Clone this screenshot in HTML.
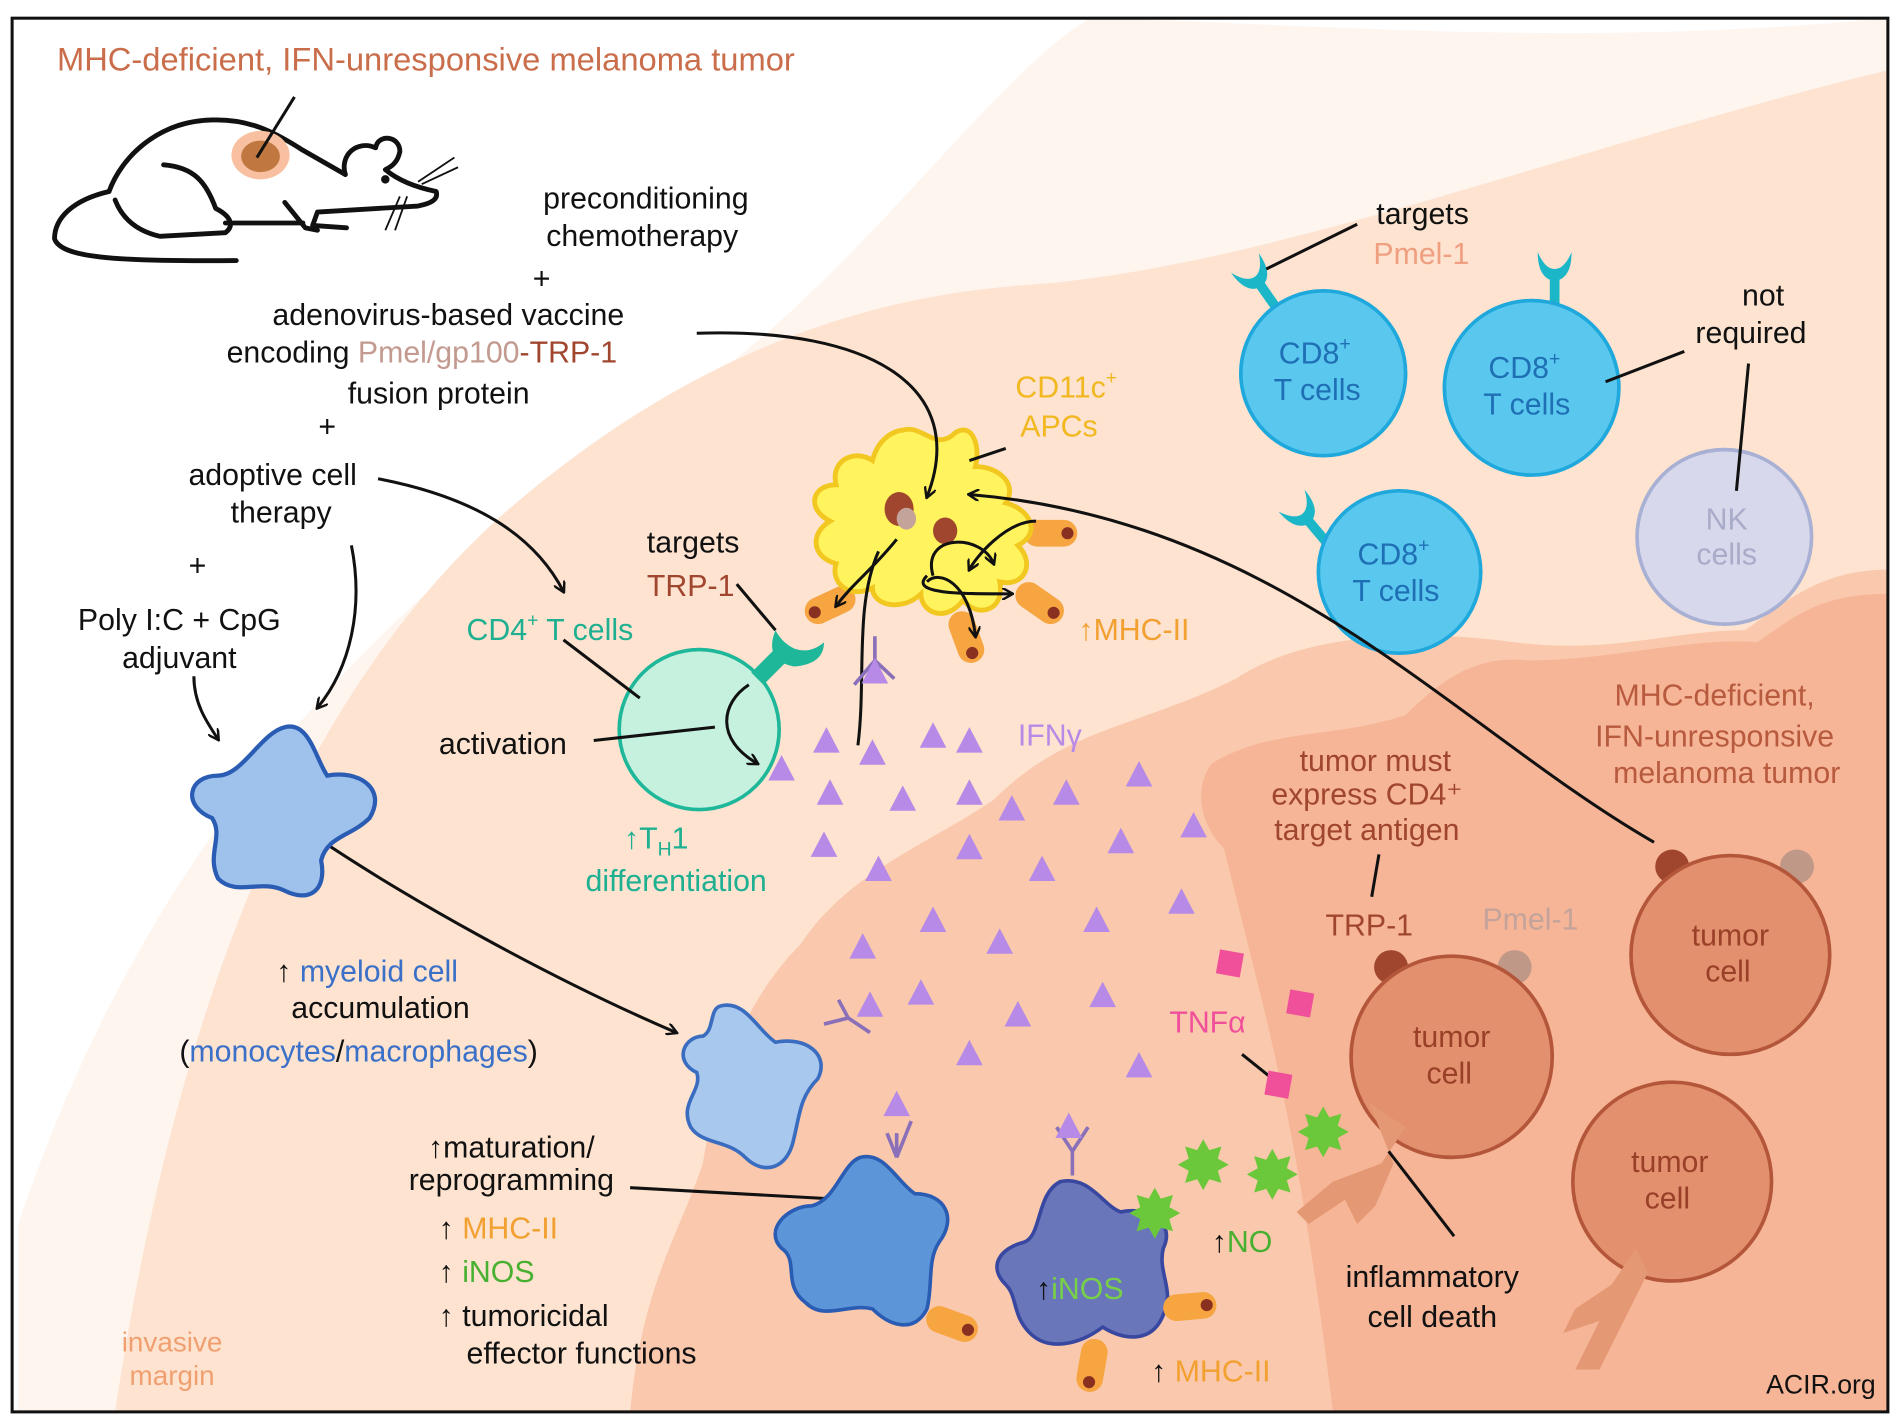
<!DOCTYPE html>
<html><head><meta charset="utf-8"><style>
html,body{margin:0;padding:0;background:#fff;}
svg{display:block;}
text{font-family:"Liberation Sans",sans-serif;}
</style></head><body>
<svg width="1900" height="1424" viewBox="0 0 1568 1175" preserveAspectRatio="none" xmlns="http://www.w3.org/2000/svg">
<defs>
<marker id="ah" markerWidth="10" markerHeight="10" refX="8" refY="5" orient="auto" markerUnits="userSpaceOnUse"><path d="M0,0 L9,5 L0,10" fill="none" stroke="#111" stroke-width="2"/></marker>
<g id="tri"><path d="M0,-12 L11,9 L-11,9Z" fill="#b68ae6"/></g>
<g id="tcr"><path d="M-14,-22 Q-14,0 0,2 Q14,0 14,-22 Q8,-8 0,-8 Q-8,-8 -14,-22Z M-4,0 L-4,22 L4,22 L4,0Z" fill="#1bb7c9"/></g>
<g id="den"><rect x="0" y="-11" width="44" height="22" rx="11" fill="#f6a540"/><circle cx="36" cy="0" r="5" fill="#8a3020"/></g>
</defs>
<rect x="0" y="0" width="1568" height="1175" fill="#fff"/>
<path d="M900,15 C1100,20 1300,40 1558,15 L1558,1165 L15,1165 L15,1010 C120,700 300,500 560,330 C700,240 820,60 900,15Z" fill="#fef5ef"/>
<path d="M1558,58 C1300,120 1050,220 850,235 C700,245 560,300 420,420 C260,560 150,800 95,1165 L1558,1165Z" fill="#fde3d0"/>
<path d="M1558,470 C1500,470 1470,500 1440,520 C1380,520 1330,540 1250,530 C1180,520 1080,520 1020,560 C940,600 880,600 820,660 C760,700 700,720 660,780 C610,830 590,900 580,960 C560,1020 530,1060 520,1165 L1558,1165Z" fill="#fac8ac"/>
<path d="M1558,490 C1500,490 1480,510 1450,530 C1400,525 1330,545 1260,545 C1220,540 1190,560 1160,590 C1100,610 1050,600 1000,630 C985,650 990,680 1010,700 L1040,820 C1060,900 1080,1000 1100,1165 L1558,1165Z" fill="#f6b597"/>
<rect x="10" y="15" width="1548" height="1150" fill="none" stroke="#111" stroke-width="2.5"/>

<text x="47" y="58" font-size="27" fill="#c96d4a">MHC-deficient, IFN-unresponsive  melanoma tumor</text>
<!-- mouse -->
<g fill="none" stroke="#111" stroke-width="4" stroke-linecap="round" stroke-linejoin="round">
<path d="M90,158 C100,130 130,100 175,99 C205,98 225,108 250,124 L285,144"/>
<path d="M285,144 C280,128 295,115 310,122 C312,110 330,112 330,125 C328,135 322,138 318,140 C330,150 345,155 360,158 C362,165 355,168 345,170 L262,175 L258,186 L286,188"/>
<path d="M235,167 L252,188 L262,190"/>
<path d="M135,136 C160,138 170,150 178,172 C190,178 194,186 186,192 L132,195 C110,190 100,178 95,165"/>
<path d="M186,184 L250,184"/>
<path d="M90,158 C60,165 45,180 45,197 C50,212 90,216 195,215"/>
</g>
<ellipse cx="215" cy="128" rx="24" ry="20" fill="#f8c0a0"/>
<ellipse cx="215" cy="129" rx="16" ry="13" fill="#c07840"/>
<line x1="212" y1="130" x2="243" y2="80" stroke="#111" stroke-width="2.5"/>
<circle cx="318" cy="148" r="3.5" fill="#111"/>
<path d="M345,150 L375,130 M348,152 L378,138 M330,162 L318,190 M336,162 L326,190" stroke="#111" stroke-width="1.5" fill="none"/>

<g font-size="25" fill="#111" text-anchor="middle">
<text x="533" y="172">preconditioning</text>
<text x="530" y="203">chemotherapy</text>
<text x="447" y="238">+</text>
<text x="370" y="268">adenovirus-based  vaccine</text>
<text x="362" y="333">fusion protein</text>
<text x="270" y="360">+</text>
<text x="225" y="400">adoptive cell</text>
<text x="232" y="431">therapy</text>
<text x="163" y="475">+</text>
<text x="148" y="520">Poly I:C + CpG</text>
<text x="148" y="551">adjuvant</text>
<text x="572" y="456">targets</text>
<text x="415" y="622">activation</text>
<text x="1174" y="185">targets</text>
<text x="1455" y="252">not</text>
<text x="1445" y="283">required</text>
<text x="1135" y="636" fill="#a0462e">tumor must</text>
<text x="1128" y="664" fill="#a0462e">express CD4⁺</text>
<text x="1128" y="693" fill="#a0462e">target antigen</text>
<text x="1182" y="1062">inflammatory</text>
<text x="1182" y="1095">cell death</text>
<text x="314" y="840">accumulation</text>
<text x="422" y="955">↑maturation/</text>
<text x="422" y="982">reprogramming</text>
</g>
<text x="187" y="299" font-size="25" fill="#111">encoding <tspan fill="#c39a90">Pmel/gp100</tspan><tspan fill="#a0462e">-TRP-1</tspan></text>
<text x="570" y="492" font-size="25" fill="#a0462e" text-anchor="middle">TRP-1</text>
<text x="1173" y="218" font-size="25" fill="#f0a080" text-anchor="middle">Pmel-1</text>
<text x="385" y="528" font-size="25" fill="#1fb092">CD4<tspan font-size="16" dy="-11">+</tspan><tspan dy="11"> T cells</tspan></text>
<text x="838" y="328" font-size="25" fill="#f2b820">CD11c<tspan font-size="16" dy="-11">+</tspan></text>
<text x="842" y="360" font-size="25" fill="#f2b820">APCs</text>
<text x="890" y="528" font-size="25" fill="#f2a030">↑MHC-II</text>
<text x="840" y="615" font-size="25" fill="#b68ae6">IFNγ</text>
<text x="515" y="700" font-size="25" fill="#1fb092">↑T<tspan font-size="16" dy="6">H</tspan><tspan dy="-6">1</tspan></text>
<text x="558" y="735" font-size="25" fill="#1fb092" text-anchor="middle">differentiation</text>
<text x="1415" y="582" font-size="25" fill="#b85a3e" text-anchor="middle">MHC-deficient,</text>
<text x="1415" y="616" font-size="25" fill="#b85a3e" text-anchor="middle">IFN-unresponsive</text>
<text x="1425" y="646" font-size="25" fill="#b85a3e" text-anchor="middle">melanoma tumor</text>
<text x="1130" y="772" font-size="25" fill="#a0462e" text-anchor="middle">TRP-1</text>
<text x="1263" y="767" font-size="25" fill="#c4a49a" text-anchor="middle">Pmel-1</text>
<text x="228" y="810" font-size="25" fill="#111">↑ <tspan fill="#3a70c8">myeloid cell</tspan></text>
<text x="148" y="876" font-size="25" fill="#111">(<tspan fill="#3a70c8">monocytes</tspan>/<tspan fill="#3a70c8">macrophages</tspan>)</text>
<text x="362" y="1022" font-size="25" fill="#f2a030"><tspan fill="#111">↑ </tspan>MHC-II</text>
<text x="362" y="1058" font-size="25" fill="#48b030"><tspan fill="#111">↑ </tspan>iNOS</text>
<text x="362" y="1094" font-size="25" fill="#111">↑ tumoricidal</text>
<text x="385" y="1125" font-size="25" fill="#111">effector functions</text>
<text x="142" y="1115" font-size="23" fill="#f0a070" text-anchor="middle">invasive</text>
<text x="142" y="1143" font-size="23" fill="#f0a070" text-anchor="middle">margin</text>
<text x="965" y="852" font-size="25" fill="#f0509a">TNFα</text>
<text x="1000" y="1033" font-size="25" fill="#48b030"><tspan fill="#111">↑</tspan>NO</text>
<text x="950" y="1140" font-size="25" fill="#f2a030"><tspan fill="#111">↑ </tspan>MHC-II</text>
<text x="1548" y="1150" font-size="22" fill="#111" text-anchor="end">ACIR.org</text>

<use href="#tcr" transform="translate(1040,235) rotate(-35)"/>
<circle cx="1092" cy="308" r="68" fill="#5ac7ee" stroke="#1ea8dc" stroke-width="3"/>
<use href="#tcr" transform="translate(1283,230)"/>
<circle cx="1264" cy="320" r="72" fill="#5ac7ee" stroke="#1ea8dc" stroke-width="3"/>
<use href="#tcr" transform="translate(1080,430) rotate(-40)"/>
<circle cx="1155" cy="472" r="67" fill="#5ac7ee" stroke="#1ea8dc" stroke-width="3"/>
<g font-size="25" fill="#1f6fb5" text-anchor="middle">
<text x="1085" y="300">CD8<tspan font-size="16" dy="-11">+</tspan></text><text x="1087" y="330">T cells</text>
<text x="1258" y="312">CD8<tspan font-size="16" dy="-11">+</tspan></text><text x="1260" y="342">T cells</text>
<text x="1150" y="466">CD8<tspan font-size="16" dy="-11">+</tspan></text><text x="1152" y="496">T cells</text>
</g>
<circle cx="1423" cy="443" r="72" fill="#d8d8ec" stroke="#a8b0d4" stroke-width="3"/>
<text x="1425" y="437" font-size="25" fill="#a8acc8" text-anchor="middle">NK</text>
<text x="1425" y="466" font-size="25" fill="#a8acc8" text-anchor="middle">cells</text>
<path d="M1045,222 L1120,185 M1325,315 L1390,290 M1443,300 L1433,405" stroke="#111" stroke-width="2.5"/>

<g fill="#e3906e" stroke="#b4563a" stroke-width="3">
<circle cx="1380" cy="715" r="14" fill="#a0462e" stroke="none"/>
<circle cx="1483" cy="715" r="14" fill="#c09888" stroke="none"/>
<circle cx="1428" cy="788" r="82"/>
<circle cx="1148" cy="798" r="14" fill="#a0462e" stroke="none"/>
<circle cx="1250" cy="798" r="14" fill="#c09888" stroke="none"/>
<circle cx="1198" cy="872" r="83"/>
<circle cx="1380" cy="975" r="82"/>
</g>
<path d="M1130,910 L1160,930 L1140,960 L1100,975 L1070,1000 L1080,1010 L1110,990 L1120,1010 L1135,995 L1150,960 Z" fill="#e49874"/>
<path d="M1350,1030 L1330,1060 L1300,1080 L1290,1100 L1320,1090 L1300,1130 L1320,1130 L1340,1090 L1360,1050Z" fill="#e49874"/>
<g font-size="25" fill="#9a4028" text-anchor="middle">
<text x="1428" y="780">tumor</text><text x="1426" y="810">cell</text>
<text x="1198" y="864">tumor</text><text x="1196" y="894">cell</text>
<text x="1378" y="967">tumor</text><text x="1376" y="997">cell</text>
</g>
<path d="M1138,705 L1132,740 M1146,950 L1200,1020" stroke="#111" stroke-width="2.5"/>

<circle cx="577" cy="602" r="66" fill="#c6f1de" stroke="#1fb79a" stroke-width="3"/>
<path d="M620,555 L640,535 L650,545 L630,565Z" fill="#1fb79a"/>
<path d="M640,520 Q630,545 655,550 Q680,548 680,530 Q668,540 655,535 Q645,530 640,520Z" fill="#1fb79a"/>
<path d="M465,528 L528,576 M608,482 L640,520 M490,611 L590,600" stroke="#111" stroke-width="2.5"/>
<path d="M618,565 C595,580 590,610 625,630" stroke="#111" stroke-width="2.5" fill="none" marker-end="url(#ah)"/>

<use href="#den" transform="translate(705,490) rotate(155)"/>
<use href="#den" transform="translate(845,440) rotate(0)"/>
<use href="#den" transform="translate(790,505) rotate(70)"/>
<use href="#den" transform="translate(840,485) rotate(35)"/>
<path d="M745,355 C760,350 770,370 785,360 C800,345 810,365 805,385 C825,385 840,400 830,415 C850,420 860,440 840,450 C855,465 845,485 825,480 C830,505 805,510 795,495 C780,515 760,505 760,490 C745,505 720,500 720,485 C700,495 685,480 690,465 C670,460 668,440 685,430 C665,420 670,400 690,400 C685,380 705,370 720,380 C725,360 740,355 745,355Z" fill="#fff45e" stroke="#f2c820" stroke-width="4"/>
<ellipse cx="742" cy="420" rx="12" ry="14" fill="#a0462e"/><ellipse cx="748" cy="428" rx="8" ry="9" fill="#c4a49a"/>
<ellipse cx="780" cy="438" rx="10" ry="11" fill="#a0462e"/>
<g stroke="#111" stroke-width="2.5" fill="none" marker-end="url(#ah)">
<path d="M575,275 C720,270 800,320 765,410"/>
<path d="M1365,695 C1200,600 1060,430 800,408"/>
<path d="M312,395 C390,410 440,440 465,488"/>
<path d="M290,450 C300,500 290,550 262,584"/>
<path d="M160,558 C160,580 170,595 180,610"/>
<path d="M238,675 C330,740 460,810 558,852"/>
<path d="M740,445 C720,470 705,480 690,500"/>
<path d="M765,475 C750,490 790,490 835,490"/>
<path d="M765,480 C775,470 800,480 805,525"/>
<path d="M770,475 C760,440 810,440 820,465"/>
<path d="M855,430 C830,430 805,460 800,470"/>
<path d="M665,866 L625,890"/>
<path d="M708,990 L706,1025"/>
<path d="M885,990 L888,1040"/>
<path d="M905,1040 L940,1010"/>
</g>
<path d="M725,455 C705,500 715,560 708,615" stroke="#111" stroke-width="2.5" fill="none"/>
<path d="M800,380 L830,370 M520,980 L700,990" stroke="#111" stroke-width="2.5"/>
<path d="M1025,870 L1050,890" stroke="#111" stroke-width="2.5"/>

<path d="M235,600 C255,595 260,625 270,640 C295,635 320,650 305,675 C290,690 270,690 265,710 C270,735 255,745 235,735 C215,725 195,740 180,725 C170,705 185,690 175,675 C150,665 155,640 180,640 C200,640 215,605 235,600Z" fill="#9ec2ec" stroke="#2b5cb4" stroke-width="3.5"/>
<path d="M595,830 C615,825 625,850 640,860 C665,855 685,870 675,890 C660,905 660,920 655,940 C650,965 630,970 615,955 C600,940 580,945 570,930 C560,910 580,900 575,885 C555,875 565,855 580,855 C590,850 585,832 595,830Z" fill="#a8c8ee" stroke="#3a6cc0" stroke-width="3"/>
<path d="M710,955 C730,950 740,975 755,985 C780,985 790,1005 775,1025 C765,1040 770,1060 765,1080 C755,1100 735,1095 720,1080 C700,1075 680,1090 665,1075 C645,1060 660,1040 645,1030 C630,1015 650,995 670,995 C690,990 695,960 710,955Z" fill="#5c96d8" stroke="#2b5cb4" stroke-width="3"/>
<path d="M875,975 C900,970 910,995 925,1000 C950,995 970,1010 960,1030 C955,1050 970,1065 960,1085 C950,1110 925,1105 910,1095 C890,1110 865,1115 850,1100 C835,1085 840,1070 830,1060 C815,1045 825,1030 845,1025 C860,1020 855,985 875,975Z" fill="#6a76ba" stroke="#3848a0" stroke-width="3"/>
<text x="855" y="1072" font-size="25" fill="#78d048"><tspan fill="#111">↑</tspan>iNOS</text>
<use href="#den" transform="translate(765,1085) rotate(20)"/>
<use href="#den" transform="translate(960,1080) rotate(-5)"/>
<use href="#den" transform="translate(905,1105) rotate(100)"/>
<g stroke="#8a70b8" stroke-width="3" fill="none">
<path d="M680,845 L700,840 L718,852 M700,840 L692,825"/>
<path d="M732,935 L740,955 M740,935 L740,955 L752,925"/>
<path d="M872,930 L885,950 L898,930 M885,950 L885,970"/>
<path d="M705,565 L722,545 M722,545 L738,560 M722,545 L722,525"/>
</g>
<g>
<use href="#tri" x="718" y="830"/><use href="#tri" x="740" y="912"/><use href="#tri" x="882" y="930"/><use href="#tri" x="722" y="555"/>
<use href="#tri" x="645" y="635"/><use href="#tri" x="682" y="612"/><use href="#tri" x="720" y="622"/><use href="#tri" x="770" y="608"/><use href="#tri" x="800" y="612"/>
<use href="#tri" x="685" y="655"/><use href="#tri" x="745" y="660"/><use href="#tri" x="800" y="655"/><use href="#tri" x="835" y="668"/><use href="#tri" x="880" y="655"/><use href="#tri" x="940" y="640"/>
<use href="#tri" x="680" y="698"/><use href="#tri" x="725" y="718"/><use href="#tri" x="800" y="700"/><use href="#tri" x="860" y="718"/><use href="#tri" x="925" y="695"/><use href="#tri" x="985" y="682"/>
<use href="#tri" x="770" y="760"/><use href="#tri" x="825" y="778"/><use href="#tri" x="905" y="760"/><use href="#tri" x="975" y="745"/><use href="#tri" x="712" y="782"/>
<use href="#tri" x="760" y="820"/><use href="#tri" x="840" y="838"/><use href="#tri" x="910" y="822"/><use href="#tri" x="800" y="870"/><use href="#tri" x="940" y="880"/>
</g>
<g fill="#f0509a"><rect x="1005" y="785" width="20" height="20" transform="rotate(10 1015 795)"/><rect x="1063" y="818" width="20" height="20" transform="rotate(10 1073 828)"/><rect x="1045" y="885" width="20" height="20" transform="rotate(10 1055 895)"/></g>
<g fill="#6ac83a">
<path d="M993,940 l5,9 10,-3 -3,10 9,5 -9,5 3,10 -10,-3 -5,9 -5,-9 -10,3 3,-10 -9,-5 9,-5 -3,-10 10,3z"/>
<path d="M1050,948 l5,9 10,-3 -3,10 9,5 -9,5 3,10 -10,-3 -5,9 -5,-9 -10,3 3,-10 -9,-5 9,-5 -3,-10 10,3z"/>
<path d="M1092,913 l5,9 10,-3 -3,10 9,5 -9,5 3,10 -10,-3 -5,9 -5,-9 -10,3 3,-10 -9,-5 9,-5 -3,-10 10,3z"/>
<path d="M953,980 l5,9 10,-3 -3,10 9,5 -9,5 3,10 -10,-3 -5,9 -5,-9 -10,3 3,-10 -9,-5 9,-5 -3,-10 10,3z"/>
</g>
</svg>
</body></html>
